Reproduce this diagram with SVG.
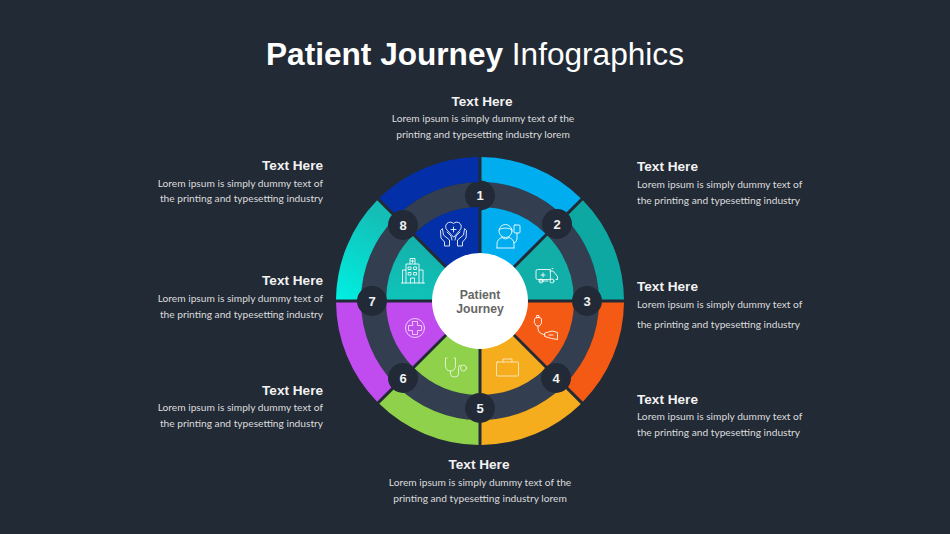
<svg xmlns="http://www.w3.org/2000/svg" width="950" height="534" viewBox="0 0 950 534">
<style>
.title{font-family:"Liberation Sans",Arial,sans-serif;font-size:31.6px;fill:#fff}
.h{font-family:"Liberation Sans",Arial,sans-serif;font-weight:700;font-size:13.6px;fill:#f2f2f2}
.b{font-family:Lato,"Open Sans",sans-serif;font-size:10.2px;fill:#dcdcdc}
.m{text-anchor:middle}.e{text-anchor:end}
.n{font-family:"Liberation Sans",Arial,sans-serif;font-weight:700;font-size:13px;fill:#f2f2f2;text-anchor:middle}
.c{font-family:"Liberation Sans",Arial,sans-serif;font-weight:700;font-size:12.2px;fill:#666;text-anchor:middle}
.dot{fill:#222a37}
.ic{fill:none;stroke:#fff;stroke-width:1;stroke-opacity:.85;stroke-linejoin:round;stroke-linecap:round}
</style>
<defs>
<path id="o" d="M481.5,157A144,144 0 0 1 580.74,198.14L563.04,215.84A119,119 0 0 0 481.5,182Z"/>
<path id="i" d="M481.5,207A94,94 0 0 1 545.41,233.47L481.5,297.38Z"/>
<linearGradient id="cy" x1="0" y1="0" x2="1" y2="0.3"><stop offset="0" stop-color="#00f0e2"/><stop offset="1" stop-color="#14bdb6"/></linearGradient>
<linearGradient id="ci" x1="0" y1="0" x2="1" y2="0.3"><stop offset="0" stop-color="#0fc4ba"/><stop offset="1" stop-color="#14b0aa"/></linearGradient>
</defs>
<rect width="950" height="534" fill="#222a36"/>
<text class="title m" x="475" y="65"><tspan font-weight="700">Patient Journey</tspan> Infographics</text>

<circle id="ring" cx="480" cy="301" r="106.5" fill="none" stroke="#333f50" stroke-width="25"/>

<g id="node1">
<use href="#o" fill="#00aeef"/><use href="#i" fill="#00aeef"/>
<circle class="dot" cx="480" cy="195.500" r="15"/><text class="n" x="480" y="200">1</text>
<g class="ic"><circle cx="505.500" cy="231" r="6.500"/><path d="M499,229.500q6.500,-3 13,0M497,248v-4q0,-5 5,-6.500M514,248v-4q0,-5 -5,-6.500M497,248h17M502,237.500q3.500,3 7,0"/><rect x="514" y="225" width="6" height="8" rx="1"/><path d="M517,233v6q0,3 -3,4"/></g>
<text class="h" x="637" y="171">Text Here</text>
<text class="b" x="637" y="188">Lorem ipsum is simply dummy text of</text>
<text class="b" x="637" y="204">the printing and typesetting industry</text>
</g>

<g id="node2">
<use href="#o" transform="rotate(45 480 301)" fill="#0ea8a3"/><use href="#i" transform="rotate(45 480 301)" fill="#12aea8"/>
<circle class="dot" cx="557" cy="224" r="15"/><text class="n" x="557" y="229">2</text>
<g class="ic"><path d="M550,279.500h-12.500a1.500,1.500 0 0 1 -1.500,-1.500v-7a1.500,1.500 0 0 1 1.500,-1.500h12.500zM550,271h3l4.500,5.500v3h-1.500M539,281h9"/><circle cx="541" cy="281" r="2"/><circle cx="552" cy="281" r="2"/><path d="M543,273v4M541,275h4M552,268.500h1"/></g>
<text class="h" x="637" y="291">Text Here</text>
<text class="b" x="637" y="308">Lorem ipsum is simply dummy text of</text>
<text class="b" x="637" y="328">the printing and typesetting industry</text>
</g>

<g id="node3">
<use href="#o" transform="rotate(90 480 301)" fill="#f45a14"/><use href="#i" transform="rotate(90 480 301)" fill="#f45a14"/>
<circle class="dot" cx="587" cy="301" r="15"/><text class="n" x="587" y="306">3</text>
<g class="ic"><path d="M537,315.500h2v2h-2zM534.500,319q0,-1.500 3.500,-1.500q3.500,0 3.500,1.500v4l-2,3h-3l-2,-3zM538,326v3q0,3 3,4.500l4,1.500"/><path d="M545,333l7,-2 5.500,1.500v7l-6,-1 -6.500,-2zM549,335h4"/></g>
<text class="h" x="637" y="404">Text Here</text>
<text class="b" x="637" y="420">Lorem ipsum is simply dummy text of</text>
<text class="b" x="637" y="436">the printing and typesetting industry</text>
</g>

<g id="node4">
<use href="#o" transform="rotate(135 480 301)" fill="#f5ad1e"/><use href="#i" transform="rotate(135 480 301)" fill="#f5ad1e"/>
<circle class="dot" cx="556" cy="378" r="15"/><text class="n" x="556" y="383">4</text>
<g class="ic" style="stroke-opacity:.65"><rect x="496.500" y="362" width="22" height="14" rx="1"/><path d="M503,362v-3h9v3"/></g>
</g>

<g id="node5">
<use href="#o" transform="rotate(180 480 301)" fill="#8fd14a"/><use href="#i" transform="rotate(180 480 301)" fill="#8fd14a"/>
<circle class="dot" cx="480" cy="408" r="15"/><text class="n" x="480" y="413">5</text>
<g class="ic" style="stroke-opacity:.7"><path d="M447,358h-1.500v7q0,6 5,6q5,0 5,-6v-7h-1.500M450.500,371v3q0,3 4,3q4,0 4,-3v-6q0,-3 2,-3"/><circle cx="463.500" cy="368" r="3"/></g>
<text class="h m" x="479" y="469">Text Here</text>
<text class="b m" x="480" y="486">Lorem ipsum is simply dummy text of the</text>
<text class="b m" x="480" y="502">printing and typesetting industry lorem</text>
</g>

<g id="node6">
<use href="#o" transform="rotate(225 480 301)" fill="#c04cf0"/><use href="#i" transform="rotate(225 480 301)" fill="#c04cf0"/>
<circle class="dot" cx="403" cy="378" r="15"/><text class="n" x="403" y="383">6</text>
<g class="ic" style="stroke-opacity:.7"><circle cx="415" cy="328" r="9.500"/><path d="M412.500,321.500h5v4h4v5h-4v4h-5v-4h-4v-5h4z"/></g>
<text class="h e" x="323" y="395">Text Here</text>
<text class="b e" x="323" y="411">Lorem ipsum is simply dummy text of</text>
<text class="b e" x="323" y="427">the printing and typesetting industry</text>
</g>

<g id="node7">
<use href="#o" transform="rotate(270 480 301)" fill="url(#cy)"/><use href="#i" transform="rotate(270 480 301)" fill="url(#ci)"/>
<circle class="dot" cx="372" cy="301" r="15"/><text class="n" x="372" y="306">7</text>
<g class="ic"><path d="M401.500,283h23M406,283v-19h13v19M406,270h-3.500v13M419,270h4v13M410,264v-5.500h5v5.500M412.500,260v2.500M411,261h3M410.500,283v-5h4v5M408.500,267h2.500v2.500h-2.500zM414,267h2.500v2.500h-2.500zM408.500,272.500h2.500v2.500h-2.500zM414,272.500h2.500v2.500h-2.500z"/></g>
<text class="h e" x="323" y="285">Text Here</text>
<text class="b e" x="323" y="302">Lorem ipsum is simply dummy text of</text>
<text class="b e" x="323" y="318">the printing and typesetting industry</text>
</g>

<g id="node8">
<use href="#o" transform="rotate(315 480 301)" fill="#0330a8"/><use href="#i" transform="rotate(315 480 301)" fill="#0330a8"/>
<circle class="dot" cx="403" cy="225" r="15"/><text class="n" x="403" y="230">8</text>
<g class="ic"><path d="M453.500,237l-6.500,-7a4.500,4.500 0 0 1 6.500,-6.500a4.500,4.500 0 0 1 6.500,6.500zM453.500,227v5M451,229.500h5"/><path d="M442.500,229l1,6 6,5v6h-5v-4l-3.500,-4 -.5,-7zM464.500,229l-1,6 -6,5v6h5v-4l3.500,-4 .5,-7zM447,232l4,4 1,4M460,232l-4,4 -1,4"/></g>
<text class="h e" x="323" y="170">Text Here</text>
<text class="b e" x="323" y="187">Lorem ipsum is simply dummy text of</text>
<text class="b e" x="323" y="202">the printing and typesetting industry</text>
</g>

<g id="nodeTop">
<text class="h m" x="482" y="106">Text Here</text>
<text class="b m" x="483" y="122">Lorem ipsum is simply dummy text of the</text>
<text class="b m" x="483" y="138">printing and typesetting industry lorem</text>
</g>

<g id="center">
<circle cx="480" cy="301" r="48" fill="#fff"/>
<text class="c" x="480" y="299">Patient</text>
<text class="c" x="480" y="313">Journey</text>
</g>
<g id="connectors"/>
</svg>
